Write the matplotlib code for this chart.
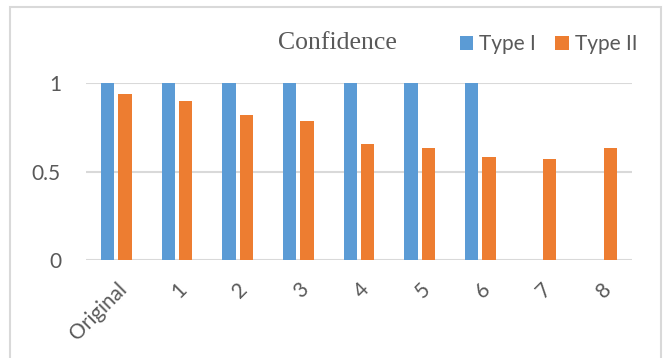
import matplotlib
matplotlib.use("Agg")
import matplotlib.pyplot as plt
import numpy as np
from matplotlib.patches import Rectangle

# confidence per version
categories = ["Original", "1", "2", "3", "4", "5", "6", "7", "8"]
type_1 = [1, 1, 1, 1, 1, 1, 1, 0, 0]
type_2 = [0.936, 0.896, 0.817, 0.783, 0.654, 0.633, 0.582, 0.573, 0.631]
y_ticks = [0, 0.5, 1]
y_tick_labels = ["0", "0.5", "1"]

blue = "#5B9BD5"
orange = "#ED7D31"
grey_text = "#595959"
grid_grey = "#D9D9D9"

fig = plt.figure(figsize=(6.64, 3.58), dpi=100)
ax = fig.add_axes([86 / 664, 1 - 260 / 358, (632 - 86) / 664, (260 - 83) / 358])

x = np.arange(len(categories))
w = 0.22
ax.bar(x - 0.145, type_1, w, color=blue, label="Type I", zorder=3)
ax.bar(x + 0.145, type_2, w, color=orange, label="Type II", zorder=3)

ax.set_xlim(-0.5, len(categories) - 0.5)
ax.set_ylim(0, 1)
ax.set_yticks(y_ticks)
ax.set_yticklabels(y_tick_labels)
ax.set_xticks(x)
ax.set_xticklabels(categories, rotation=45, ha="right", rotation_mode="anchor")
for lbl in ax.get_xticklabels() + ax.get_yticklabels():
    lbl.set_fontfamily("Lato")
    lbl.set_fontsize(15)
    lbl.set_color(grey_text)
ax.tick_params(length=0)
ax.tick_params(axis="y", pad=18)
ax.tick_params(axis="x", pad=14)
for s in ax.spines.values():
    s.set_visible(False)
ax.yaxis.grid(True, color=grid_grey, linewidth=1.5, zorder=0)
ax.set_axisbelow(True)

fig.text(337 / 664, 1 - 43 / 358, "Confidence", ha="center", va="center",
         fontfamily="Liberation Serif", fontsize=18.5, color=grey_text)
fig.legend(loc="center right", bbox_to_anchor=(656 / 664, 1 - 44 / 358),
           ncol=2, frameon=False, handlelength=0.65, handleheight=0.65,
           handletextpad=0.3, columnspacing=0.9,
           prop={"family": "Lato", "size": 15}, labelcolor=grey_text)

# outer chart frame
fig.patches.append(Rectangle((10 / 664, -0.1), 651 / 664, 1.1 - 7 / 358,
                             transform=fig.transFigure, fill=False,
                             edgecolor=grid_grey, linewidth=1.5))

fig.savefig("out.png", dpi=100)
